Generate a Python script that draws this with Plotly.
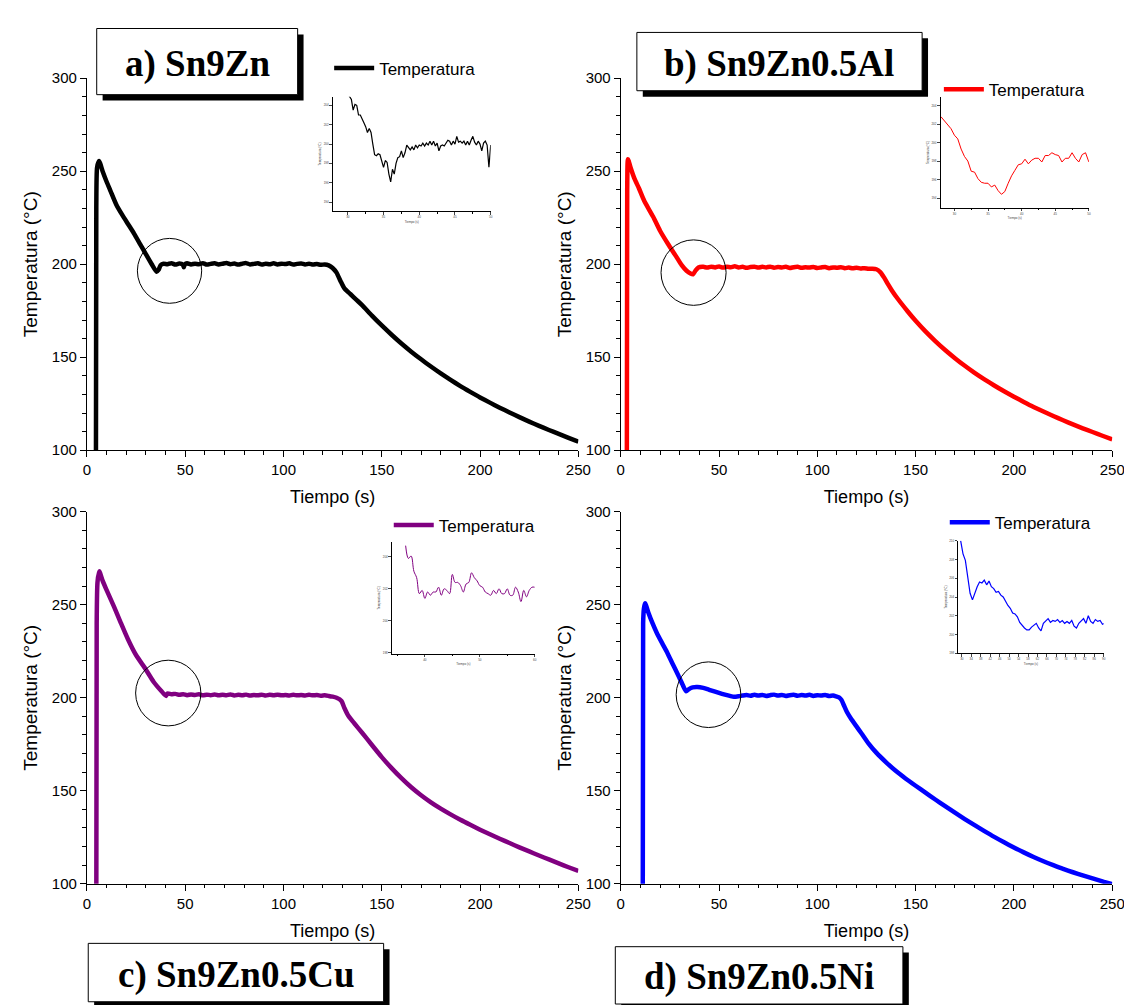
import plotly.graph_objects as go

# ---------------- data ----------------
# Panel a) Sn9Zn : heating spike + primary cooling
a_t1 = [4.6, 4.8, 5.2, 6.2, 8, 10, 12, 15, 18, 21, 24, 27, 30, 33, 35.5, 36.5, 37.5]
a_T1 = [80, 230, 252, 255.5, 250, 244.5, 239.5, 232, 226.5, 221.5, 216.5, 211, 205.5, 200, 196, 197, 199.5]
# plateau
a_t2 = [39, 41, 43, 45, 47, 48.8, 49.3, 49.8, 51, 53, 55, 57, 59, 61, 63, 65, 67, 69, 71, 73, 75, 77, 79, 81,
        83, 85, 87, 89, 91, 93, 95, 97, 99, 101, 103, 105, 107, 109, 111, 113, 115, 117, 119, 121, 123]
a_T2 = [200.3, 200.0, 200.6, 199.8, 200.4, 199.9, 198.4, 199.9, 200.5, 199.9, 200.3, 200.0, 200.6, 199.8, 200.2,
        200.5, 199.9, 200.3, 200.7, 200.0, 200.4, 199.8, 200.3, 200.6, 199.9, 200.2, 200.5, 199.8, 200.3, 200.0,
        200.5, 199.9, 200.3, 200.1, 200.5, 199.8, 200.2, 200.4, 199.9, 200.3, 199.8, 200.1, 199.7, 199.9, 199.4]
# final cooling
a_t3 = [125, 127, 129, 131, 134, 137, 140, 145, 150, 155, 160, 165, 170, 175, 180, 185, 190, 195, 200,
        205, 210, 215, 220, 225, 230, 235, 240, 245, 250]
a_T3 = [198, 195.5, 191, 187, 184, 181, 178, 172.4, 167.1, 162.1, 157.4, 153.0, 148.9, 145.0, 141.3, 137.8,
        134.5, 131.4, 128.4, 125.6, 122.9, 120.3, 117.8, 115.4, 113.1, 110.9, 108.8, 106.7, 104.6]

# Panel b) Sn9Zn0.5Al
b_t1 = [3.1, 3.3, 3.7, 5, 7, 9.2, 12, 16.5, 20, 24, 28, 31, 33.5, 35.5, 36.8, 38, 39.5]
b_T1 = [80, 240, 256.5, 252, 246, 241, 234, 225.5, 218, 211, 204.5, 199.5, 196.5, 195, 194.6, 196.5, 198.3]
b_t2 = [42, 44, 46, 48, 50, 52, 54, 56, 58, 60, 62, 64, 66, 68, 70, 72, 74, 76, 78, 80, 82, 84, 86, 88, 90,
        92, 94, 96, 98, 100, 102, 104, 106, 108, 110, 112, 114, 116, 118, 120, 122, 124, 126, 128, 130]
b_T2 = [198.6, 198.2, 198.7, 198.3, 198.8, 198.2, 198.6, 198.4, 198.9, 198.3, 198.6, 198.1, 198.5, 198.7, 198.2,
        198.6, 198.3, 198.7, 198.1, 198.5, 198.3, 198.6, 198.0, 198.4, 198.6, 198.1, 198.4, 198.2, 198.5, 198.0,
        198.3, 198.5, 197.9, 198.3, 198.1, 198.4, 197.9, 198.2, 197.8, 198.1, 197.7, 197.9, 197.6, 197.6, 197.3]
b_t3 = [132, 134, 136, 138, 141, 146, 150, 155, 160, 165, 170, 175, 180, 185, 190, 195, 200, 205, 210, 215,
        220, 225, 230, 235, 240, 245, 250]
b_T3 = [195.8, 192.8, 189.2, 185.8, 181.3, 174.6, 169.6, 163.9, 158.7, 153.9, 149.5, 145.4, 141.6, 138.1,
        134.8, 131.7, 128.8, 126.0, 123.3, 120.8, 118.4, 116.1, 113.9, 111.8, 109.8, 107.8, 105.9]

# Panel c) Sn9Zn0.5Cu
c_t1 = [4.8, 5.0, 5.4, 6.3, 8, 10, 13.8, 17, 20.9, 25, 29.9, 34, 38, 40.3]
c_T1 = [80, 240, 262, 268, 263, 258, 249, 241, 231.5, 223, 215.4, 208.5, 203.5, 201]
c_t2 = [41, 43, 45, 47, 49, 51, 53, 55, 57, 59, 61, 63, 65, 67, 69, 71, 73, 75, 77, 79, 81, 83, 85, 87, 89,
        91, 93, 95, 97, 99, 101, 103, 105, 107, 109, 111, 113, 115, 117, 119, 121, 123, 125, 127]
c_T2 = [202.3, 201.9, 202.1, 201.6, 201.9, 201.4, 201.8, 201.5, 201.9, 201.3, 201.7, 201.4, 201.8, 201.3, 201.6,
        201.4, 201.8, 201.2, 201.6, 201.4, 201.7, 201.2, 201.5, 201.3, 201.7, 201.2, 201.6, 201.4, 201.7, 201.3,
        201.5, 201.2, 201.6, 201.3, 201.5, 201.2, 201.6, 201.3, 201.5, 201.1, 201.3, 201.0, 200.6, 200.0]
c_t3 = [129.5, 131, 133, 136, 140, 145, 150, 155, 160, 165, 170, 175, 180, 185, 190, 195, 200, 205,
        210, 215, 220, 225, 230, 235, 240, 245, 250]
c_T3 = [198.3, 194.5, 190.3, 186.3, 181.2, 174.6, 168.1, 162.2, 156.8, 151.9, 147.6, 143.8, 140.4, 137.3,
        134.4, 131.7, 129.1, 126.6, 124.2, 121.9, 119.6, 117.4, 115.2, 113.1, 111.0, 108.9, 106.9]

# Panel d) Sn9Zn0.5Ni
d_t1 = [11.2, 11.4, 11.8, 12.4, 14, 16, 18.3, 21, 23.8, 26.5, 29.3, 31.5, 33.3, 34.5, 36.6, 39, 42, 45, 47.6,
        50, 53, 55.5, 57.6]
d_T1 = [80, 240, 248, 250.8, 246, 240.5, 235, 229.5, 224, 218, 212, 207, 203.5, 204.5, 205.6, 205.8, 205.3,
        204.3, 203.4, 202.6, 201.7, 201, 200.5]
d_t2 = [60, 62, 64, 66, 68, 70, 72, 74, 76, 78, 80, 82, 84, 86, 88, 90, 92, 94, 96, 98, 100, 102, 104, 106,
        108, 109.5]
d_T2 = [200.8, 201.2, 201.5, 201.1, 201.6, 201.2, 201.5, 201.0, 201.4, 201.7, 201.2, 201.5, 201.0, 201.4,
        201.6, 201.1, 201.5, 201.2, 201.6, 201.0, 201.4, 201.2, 201.5, 201.0, 201.2, 200.8]
d_t3 = [111, 112.3, 113.5, 115, 117, 120, 122.5, 126, 130, 135, 140, 145, 150, 155, 160, 165, 170, 175, 180,
        185, 190, 195, 200, 205, 210, 215, 220, 225, 230, 235, 240, 245, 250]
d_T3 = [200.2, 198.8, 196, 192.5, 189, 184.5, 180.8, 175.5, 170.5, 165.3, 160.6, 156.5, 152.7, 149.0, 145.3,
        141.7, 138.2, 134.8, 131.5, 128.3, 125.2, 122.3, 119.5, 116.9, 114.4, 112.1, 110.0, 108.0, 106.2,
        104.5, 102.9, 101.3, 99.8]

# Inset a (zoom of the undercooling region, 0.25 s steps from 30 s)
ia_t0, ia_dt = 30.0, 0.25
ia_T = [205.2, 204.95, 204.6, 203.5, 204.1, 204.0, 203.0, 203.0, 202.5, 202.2, 201.8, 201.2, 201.6, 201.2,
        200.0, 198.9, 198.8, 199.0, 198.9, 198.2, 197.6, 198.3, 198.1, 196.9, 196.1, 197.4, 196.9, 198.0,
        198.6, 198.7, 199.3, 198.6, 199.1, 199.9, 199.7, 199.4, 199.7, 199.4, 199.9, 199.6, 199.9, 199.8,
        200.1, 199.8, 200.1, 199.9, 200.3, 199.9, 200.3, 199.8, 200.1, 199.3, 199.8, 199.9, 199.8, 200.1,
        200.4, 200.3, 199.9, 200.3, 200.0, 200.8, 200.2, 200.3, 200.1, 200.3, 199.9, 200.3, 199.9, 200.4,
        200.8, 200.2, 199.9, 200.3, 200.0, 199.3, 200.1, 200.3, 199.9, 197.6, 199.9]
# Inset b (0.5 s steps from 28 s)
ib_t0, ib_dt = 28.0, 0.5
ib_T = [202.8, 202.4, 201.9, 201.5, 200.8, 200.4, 199.3, 198.5, 198.0, 196.9, 196.8, 196.1, 195.7, 195.6,
        195.6, 195.2, 195.4, 194.8, 194.4, 194.7, 195.6, 196.4, 197.0, 197.6, 197.7, 198.2, 197.7, 198.1,
        198.3, 198.3, 197.9, 198.6, 198.6, 198.9, 198.7, 198.6, 197.9, 198.3, 198.3, 198.9, 198.3, 197.9,
        198.7, 198.9, 197.9]
# Inset c (0.5 s steps from 36.5 s)
ic_t0, ic_dt = 36.5, 0.5
ic_T = [204.7, 203.9, 204.05, 203.1, 202.7, 201.7, 201.9, 201.4, 201.8, 201.6, 201.8, 201.8, 202.1, 201.6,
        202.0, 201.9, 201.7, 202.9, 202.4, 202.4, 202.2, 201.8, 202.3, 202.4, 203.0, 202.7, 202.5, 202.2,
        202.1, 201.8, 201.7, 201.6, 201.9, 201.7, 202.0, 201.7, 201.7, 202.0, 201.6, 201.6, 202.1, 201.8,
        201.2, 201.9, 201.5, 201.9, 202.1, 202.1]
# Inset d (1 s steps from 29.5 s)
id_t0, id_dt = 29.5, 1.0
id_T = [210.0, 208.6, 207.9, 206.1, 204.4, 203.7, 204.5, 205.1, 205.6, 205.5, 205.8, 205.3, 205.7, 205.1,
        204.9, 204.5, 204.6, 204.2, 204.0, 203.5, 203.1, 202.8, 202.3, 202.2, 201.9, 201.3, 200.95, 200.7,
        200.5, 200.5, 200.8, 201.0, 201.2, 200.7, 200.4, 201.2, 201.4, 201.7, 201.3, 201.5, 201.4, 201.6,
        201.3, 201.5, 201.2, 201.4, 201.2, 201.5, 200.9, 200.7, 201.2, 201.4, 201.7, 201.2, 202.0, 201.4,
        201.2, 201.6, 201.4, 201.5, 201.1, 201.2]

titles = ["a) Sn9Zn", "b) Sn9Zn0.5Al", "c) Sn9Zn0.5Cu", "d) Sn9Zn0.5Ni"]
colors = ["#000000", "#FF0000", "#800080", "#0000FF"]
legend_label = "Temperatura"
x_title = "Tiempo (s)"
y_title = "Temperatura (°C)"
# circles marking the undercooling (data units: x0, x1, y0, y1)
circles = [(25.7, 58.4, 179.0, 213.9), (20.5, 53.6, 177.9, 213.1),
           (24.8, 58.0, 184.9, 220.2), (28.2, 61.1, 184.0, 219.3)]

main = [(a_t1 + a_t2 + a_t3, a_T1 + a_T2 + a_T3),
        (b_t1 + b_t2 + b_t3, b_T1 + b_T2 + b_T3),
        (c_t1 + c_t2 + c_t3, c_T1 + c_T2 + c_T3),
        (d_t1 + d_t2 + d_t3, d_T1 + d_T2 + d_T3)]
for a_, b_ in main:
    assert len(a_) == len(b_), (len(a_), len(b_))

W, H = 1132, 1005
def px(x):
    return x / W
def py(y):
    return 1 - y / H

SANS = "Liberation Sans, Arial, sans-serif"
SERIF = "Liberation Serif, Times New Roman, serif"

fig = go.Figure()

legends = ["legend", "legend2", "legend3", "legend4"]
for i, (tt, TT) in enumerate(main):
    sfx = "" if i == 0 else str(i + 1)
    fig.add_trace(go.Scatter(x=tt, y=TT, mode="lines", name=legend_label,
                             line=dict(color=colors[i], width=4.5, shape="spline", smoothing=0.6),
                             xaxis="x" + sfx, yaxis="y" + sfx,
                             legend=legends[i], showlegend=True))

insets = [(ia_t0, ia_dt, ia_T, 1.2), (ib_t0, ib_dt, ib_T, 1.0),
          (ic_t0, ic_dt, ic_T, 1.0), (id_t0, id_dt, id_T, 1.2)]
for i, (t0, dt, TT, lw) in enumerate(insets):
    n = i + 5
    xs = [t0 + dt * k for k in range(len(TT))]
    fig.add_trace(go.Scatter(x=xs, y=TT, mode="lines", line=dict(color=colors[i], width=lw,
                             shape="spline" if i == 2 else "linear"),
                             xaxis="x%d" % n, yaxis="y%d" % n, showlegend=False))

# main axes domains (pixels)
main_x = [(76, 575), (618, 1117), (76, 575), (618, 1117)]
main_y = [(62.3, 440.7), (62.3, 440.7), (503.3, 881.7), (503.3, 881.7)]

layout = dict(width=W, height=H, margin=dict(l=0, r=0, t=0, b=0),
              paper_bgcolor="white", plot_bgcolor="white",
              font=dict(family=SANS, color="black"))

for i in range(4):
    sfx = "" if i == 0 else str(i + 1)
    xa = dict(domain=[px(main_x[i][0]), px(main_x[i][1])], range=[0, 250],
              anchor="y" + sfx, showgrid=False, zeroline=False,
              showline=True, linecolor="black", linewidth=1,
              ticks="outside", ticklen=6, tickcolor="black", tickwidth=1,
              tickvals=[0, 50, 100, 150, 200, 250],
              minor=dict(dtick=10, tick0=0, ticks="outside", ticklen=3.5, tickcolor="black", showgrid=False),
              tickfont=dict(size=15, family=SANS, color="black"),
              title=dict(text=x_title, font=dict(size=18, family=SANS), standoff=13))
    ya = dict(domain=[py(main_y[i][1]), py(main_y[i][0])], range=[100, 300],
              anchor="x" + sfx, showgrid=False, zeroline=False,
              showline=True, linecolor="black", linewidth=1,
              ticks="outside", ticklen=6, tickcolor="black", tickwidth=1,
              tickvals=[100, 150, 200, 250, 300],
              minor=dict(dtick=10, tick0=0, ticks="outside", ticklen=3.5, tickcolor="black", showgrid=False),
              tickfont=dict(size=15, family=SANS, color="black"),
              title=dict(text=y_title, font=dict(size=19, family=SANS), standoff=9))
    layout["xaxis" + sfx] = xa
    layout["yaxis" + sfx] = ya

# inset axes
inset_x = [(325.7, 486), (942.7, 1093.3), (385.7, 530.7), (960.7, 1108.3)]
inset_y = [(81, 197.7), (81.7, 194), (534, 647.7), (532.7, 647.3)]
inset_xr = [(27.9, 50), (27.94, 50), (34, 60), (28.5, 90)]
inset_yr = [(193.05, 204.9), (192.95, 204.9), (197.94, 204.93), (198.0, 210.0)]
inset_xt = [dict(tick0=30, dtick=5, minor=2.5), dict(tick0=30, dtick=5, minor=2.5),
            dict(tick0=40, dtick=10, minor=5), dict(tick0=30, dtick=4, minor=None)]
tiny = dict(size=3, family=SANS, color="#444")
for i in range(4):
    n = i + 5
    mx = dict(domain=[px(inset_x[i][0]), px(inset_x[i][1])], range=list(inset_xr[i]),
              anchor="y%d" % n, showgrid=False, zeroline=False, showline=True,
              linecolor="black", linewidth=1, ticks="outside", ticklen=2.5, tickwidth=0.8,
              tick0=inset_xt[i]["tick0"], dtick=inset_xt[i]["dtick"],
              tickfont=tiny, title=dict(text=x_title, font=tiny, standoff=2))
    if inset_xt[i]["minor"]:
        mx["minor"] = dict(dtick=inset_xt[i]["minor"], ticks="outside", ticklen=1.5, tickcolor="black")
    my = dict(domain=[py(inset_y[i][1]), py(inset_y[i][0])], range=list(inset_yr[i]),
              anchor="x%d" % n, showgrid=False, zeroline=False, showline=True,
              linecolor="black", linewidth=1, ticks="outside", ticklen=2.5, tickwidth=0.8,
              tick0=190, dtick=2, tickfont=tiny, title=dict(text=y_title, font=tiny, standoff=2))
    layout["xaxis%d" % n] = mx
    layout["yaxis%d" % n] = my

# legends
leg_pos = [(322, 52.3), (941, 74), (382.5, 517.3), (947, 514.3)]
for i, lg in enumerate(legends):
    layout[lg] = dict(x=px(leg_pos[i][0]), y=py(leg_pos[i][1]), xanchor="left", yanchor="middle",
                      bgcolor="rgba(0,0,0,0)", borderwidth=0,
                      font=dict(size=17, family=SANS, color="black"), itemwidth=40)

fig.update_layout(**layout)

# title boxes with drop shadows
boxes = [(86, 11.7, 290, 79), (634.4, 15.7, 924, 75), (77.4, 942.3, 377.3, 1001.7), (612.5, 945.7, 904.5, 1004)]
shapes = []
annotations = []
for i, (x0, y0, x1, y1) in enumerate(boxes):
    shapes.append(dict(type="rect", xref="paper", yref="paper", x0=px(x0 + 6), x1=px(x1 + 6),
                       y0=py(y1 + 6), y1=py(y0 + 6), fillcolor="black", line=dict(width=0), layer="above"))
    shapes.append(dict(type="rect", xref="paper", yref="paper", x0=px(x0), x1=px(x1),
                       y0=py(y1), y1=py(y0), fillcolor="white", line=dict(color="black", width=1), layer="above"))
    annotations.append(dict(text=titles[i], xref="paper", yref="paper", x=px((x0 + x1) / 2),
                            y=py((y0 + y1) / 2 + 2), xanchor="center", yanchor="middle", showarrow=False,
                            font=dict(family=SERIF, size=37, color="black", weight="bold")))

for i, (cx0, cx1, cy0, cy1) in enumerate(circles):
    sfx = "" if i == 0 else str(i + 1)
    shapes.append(dict(type="circle", xref="x" + sfx, yref="y" + sfx, x0=cx0, x1=cx1, y0=cy0, y1=cy1,
                       line=dict(color="black", width=1), layer="above"))

fig.update_layout(shapes=shapes, annotations=annotations)
fig.write_html("out.html")
